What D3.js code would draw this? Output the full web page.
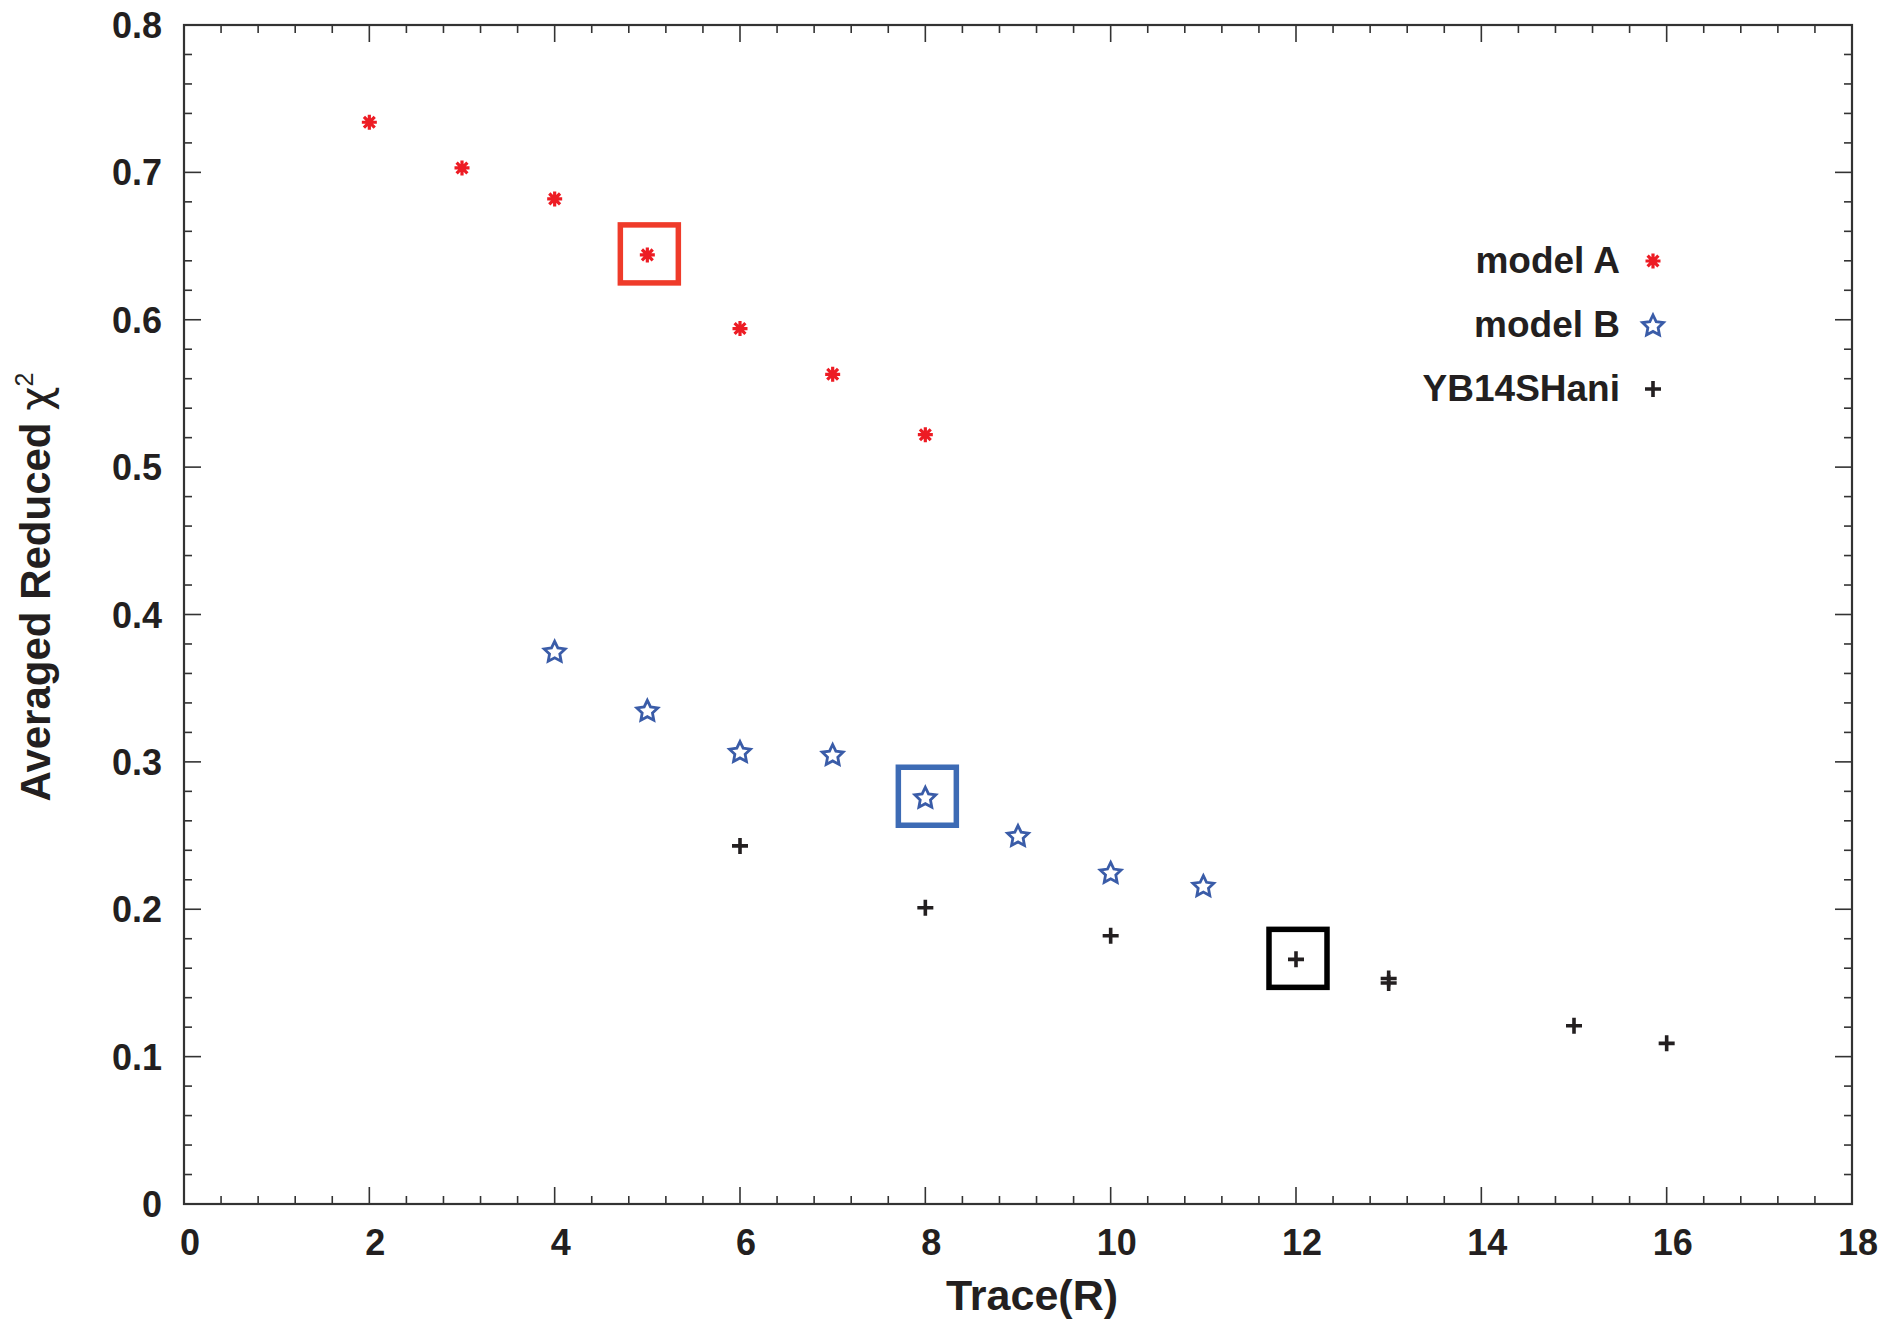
<!DOCTYPE html>
<html>
<head>
<meta charset="utf-8">
<script src="https://cdn.jsdelivr.net/npm/d3@7"></script>
<style>
  body { margin: 0; background: #fff; }
  text { font-family: "Liberation Sans", Arial, Helvetica, sans-serif; font-weight: bold; fill: #231f20; }
</style>
</head>
<body>
<div class="content"></div>
<script>
// Data
const modelAX = [2, 3, 4, 5, 6, 7, 8];
const modelAY = [0.734, 0.703, 0.682, 0.644, 0.594, 0.563, 0.522];

const modelBX = [4, 5, 6, 7, 8, 9, 10, 11];
const modelBY = [0.375, 0.335, 0.307, 0.305, 0.276, 0.25, 0.225, 0.216];

const ybX = [6, 8, 10, 12, 13, 13, 15, 16];
const ybY = [0.243, 0.201, 0.182, 0.166, 0.153, 0.15, 0.121, 0.109];

// highlighted points: [x, y]
const highlightA = [5, 0.644];
const highlightB = [8, 0.276];
const highlightYB = [12, 0.166];

const xTicks = [0, 2, 4, 6, 8, 10, 12, 14, 16, 18];
const yTicks = [0, 0.1, 0.2, 0.3, 0.4, 0.5, 0.6, 0.7, 0.8];

const legendLabels = ["model A", "model B", "YB14SHani"];

// Dimensions
const W = 1887, H = 1323;
const margin = { top: 25, right: 35, bottom: 119, left: 184 };
const width = W - margin.left - margin.right;
const height = H - margin.top - margin.bottom;

const red = "#ed1c24", blue = "#3a5ca8", black = "#231f20";

const svg = d3.select(".content").append("svg")
  .attr("width", W).attr("height", H);

const chart = svg.append("g")
  .attr("transform", `translate(${margin.left}, ${margin.top})`);

const xScale = d3.scaleLinear().domain([0, 18]).range([0, width]);
const yScale = d3.scaleLinear().domain([0, 0.8]).range([height, 0]);

// Ticks (mirrored on all sides)
const xMinor = d3.range(0, 18.001, 0.4).filter((v) => Math.abs(v / 2 - Math.round(v / 2)) > 1e-6);
const yMinor = d3.range(0, 0.8001, 0.02).filter((v) => Math.abs(v * 10 - Math.round(v * 10)) > 1e-6);

const tickG = chart.append("g").attr("stroke", "#333").attr("stroke-width", 1.6);
const drawX = (vals, len) => {
  vals.forEach((v) => {
    tickG.append("line").attr("x1", xScale(v)).attr("x2", xScale(v)).attr("y1", height).attr("y2", height - len);
    tickG.append("line").attr("x1", xScale(v)).attr("x2", xScale(v)).attr("y1", 0).attr("y2", len);
  });
};
const drawY = (vals, len) => {
  vals.forEach((v) => {
    tickG.append("line").attr("y1", yScale(v)).attr("y2", yScale(v)).attr("x1", 0).attr("x2", len);
    tickG.append("line").attr("y1", yScale(v)).attr("y2", yScale(v)).attr("x1", width).attr("x2", width - len);
  });
};
drawX(xTicks, 17);
drawX(xMinor, 8);
drawY(yTicks, 17);
drawY(yMinor, 8);

// Frame
chart.append("rect")
  .attr("width", width).attr("height", height)
  .attr("fill", "none").attr("stroke", "#333").attr("stroke-width", 2.2);

// Tick labels
chart.append("g").selectAll("text")
  .data(xTicks).join("text")
  .attr("x", (d) => xScale(d) + 6)
  .attr("y", height + 51)
  .attr("text-anchor", "middle")
  .style("font-size", "36px")
  .text((d) => d);

chart.append("g").selectAll("text")
  .data(yTicks).join("text")
  .attr("x", -22)
  .attr("y", (d) => yScale(d) + 13)
  .attr("text-anchor", "end")
  .style("font-size", "36px")
  .text((d) => (d === 0 ? "0" : d.toFixed(1)));

// Axis titles
svg.append("text")
  .attr("x", 1032).attr("y", 1310)
  .attr("text-anchor", "middle")
  .style("font-size", "43px")
  .text("Trace(R)");

const yTitle = svg.append("text")
  .attr("transform", "translate(50, 587) rotate(-90)")
  .attr("text-anchor", "middle")
  .style("font-size", "42px");
yTitle.append("tspan").text("Averaged Reduced ");
yTitle.append("tspan").style("font-weight", "normal").style("font-family", "'DejaVu Sans', sans-serif").text("χ");
yTitle.append("tspan").attr("dy", -17).style("font-size", "25px").style("font-weight", "normal").text("2");

// Marker shapes
const asterisk = (r) =>
  `M${-r},0L${r},0M0,${-r}L0,${r}M${-r * 0.72},${-r * 0.72}L${r * 0.72},${r * 0.72}M${-r * 0.72},${r * 0.72}L${r * 0.72},${-r * 0.72}`;
const plus = (r) => `M${-r},0L${r},0M0,${-r}L0,${r}`;
const star = (ro, ri) => {
  const pts = d3.range(10).map((i) => {
    const a = -Math.PI / 2 + (i * Math.PI) / 5;
    const r = i % 2 ? ri : ro;
    return [r * Math.cos(a), r * Math.sin(a) + 1];
  });
  return "M" + pts.map((p) => p.join(",")).join("L") + "Z";
};

const drawMarkers = (xs, ys, path, color, sw) => {
  chart.append("g").selectAll("path")
    .data(xs.map((x, i) => [x, ys[i]])).join("path")
    .attr("transform", (d) => `translate(${xScale(d[0])}, ${yScale(d[1])})`)
    .attr("d", path)
    .attr("fill", "none")
    .attr("stroke", color)
    .attr("stroke-width", sw)
    .attr("stroke-linejoin", "miter");
};

const pathA = asterisk(7.5), pathB = star(11, 5.4), pathYB = plus(8);
drawMarkers(modelAX, modelAY, pathA, red, 3.2);
drawMarkers(modelBX, modelBY, pathB, blue, 2.8);
drawMarkers(ybX, ybY, pathYB, black, 3.6);

// Highlight boxes
const boxSize = 58;
[[highlightA, "#ef3b2a"], [highlightB, "#3d6bb5"], [highlightYB, "#000"]].forEach(([p, c]) => {
  chart.append("rect")
    .attr("x", xScale(p[0]) - boxSize / 2 + 2)
    .attr("y", yScale(p[1]) - boxSize / 2 - 1)
    .attr("width", boxSize).attr("height", boxSize)
    .attr("fill", "none").attr("stroke", c).attr("stroke-width", 5.5);
});

// Legend
const legend = svg.append("g").attr("transform", "translate(1620, 0)");
const legendY = [273, 337, 401];
const legendPaths = [pathA, pathB, pathYB];
const legendColors = [red, blue, black];
const legendSW = [3.2, 2.8, 3.6];
legendLabels.forEach((label, i) => {
  legend.append("text")
    .attr("x", 0).attr("y", legendY[i])
    .attr("text-anchor", "end")
    .style("font-size", "37px")
    .text(label);
  legend.append("path")
    .attr("transform", `translate(33, ${legendY[i] - 12})`)
    .attr("d", legendPaths[i])
    .attr("fill", "none")
    .attr("stroke", legendColors[i])
    .attr("stroke-width", legendSW[i]);
});
</script>
</body>
</html>
